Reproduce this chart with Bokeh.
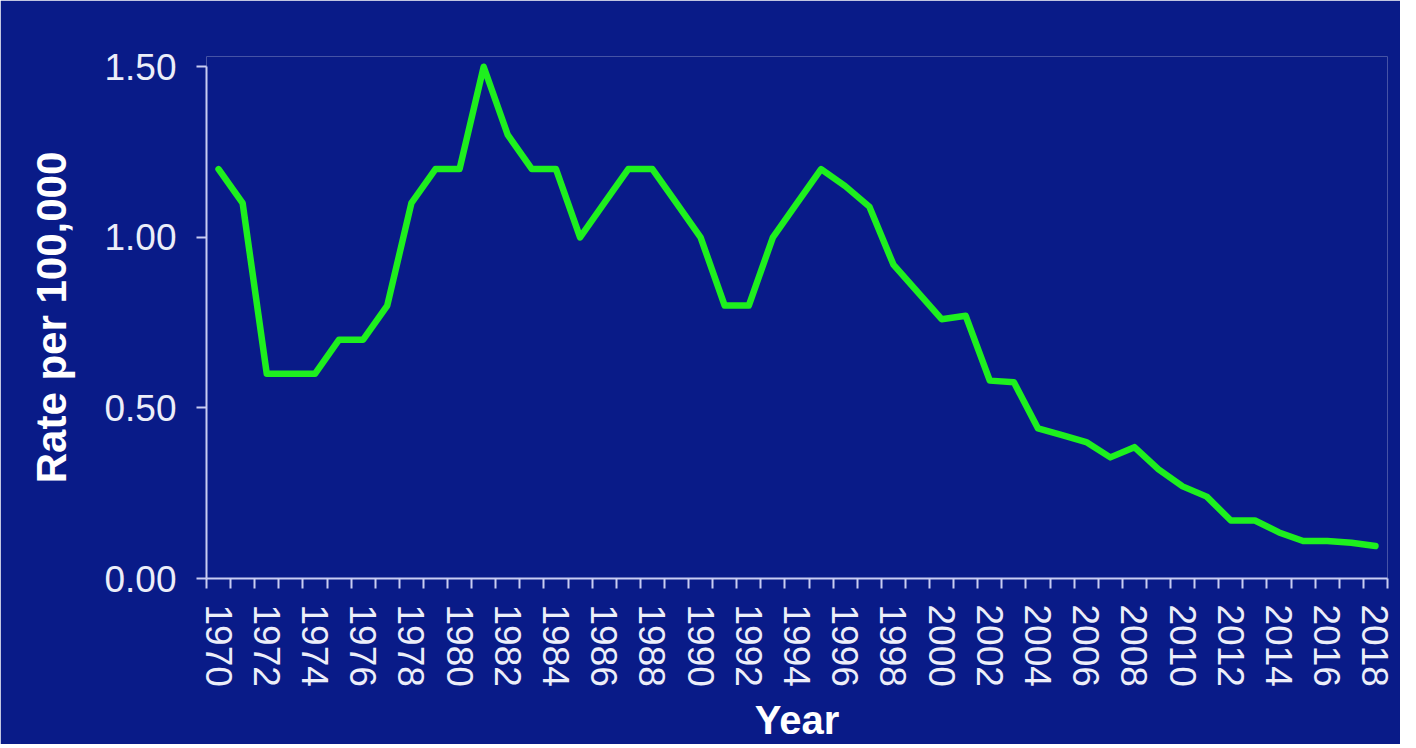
from bokeh.plotting import figure
from bokeh.models import Range1d, FixedTicker
from bokeh.embed import file_html
from bokeh.resources import INLINE

# ---- data ----
years = list(range(1970, 2019))
rates = [1.20, 1.10, 0.60, 0.60, 0.60, 0.70, 0.70, 0.80, 1.10, 1.20,
         1.20, 1.50, 1.30, 1.20, 1.20, 1.00, 1.10, 1.20, 1.20, 1.10,
         1.00, 0.80, 0.80, 1.00, 1.10, 1.20, 1.15, 1.09, 0.92, 0.84,
         0.76, 0.77, 0.58, 0.575, 0.44, 0.42, 0.40, 0.355, 0.385, 0.32,
         0.27, 0.24, 0.17, 0.17, 0.135, 0.11, 0.11, 0.105, 0.095]
x_label_years = list(range(1970, 2019, 2))
x_tick_labels = [str(y) for y in x_label_years]
y_ticks = [0.0, 0.5, 1.0, 1.5]
y_tick_labels = ["0.00", "0.50", "1.00", "1.50"]
x_title = "Year"
y_title = "Rate per 100,000"

BG = "#091b88"
AXIS = "#c9cdf2"
LABEL = "#eceef9"
FONT = "Liberation Sans"

p = figure(
    frame_width=1181, frame_height=522,
    x_range=Range1d(years[0] - 0.5, years[-1] + 0.5),
    y_range=Range1d(0, 1.53),
    output_backend="svg", toolbar_location=None,
    background_fill_color=BG, border_fill_color=BG,
    min_border_left=206, min_border_top=56, min_border_right=13, min_border_bottom=150,
)
p.outline_line_color = None
p.xgrid.grid_line_color = None
p.ygrid.grid_line_color = None

p.line(years, rates, line_color="#1ef01e", line_width=6.5, line_join="round", line_cap="round")

# x axis
xa = p.xaxis[0]
xa.ticker = FixedTicker(ticks=x_label_years,
                        minor_ticks=[y - 0.5 for y in years] + [years[-1] + 0.5])
xa.major_label_overrides = {y: s for y, s in zip(x_label_years, x_tick_labels)}
xa.major_label_orientation = "vertical"
xa.major_tick_out = 0
xa.major_tick_in = 0
xa.minor_tick_out = 10
xa.minor_tick_in = 0
xa.minor_tick_line_color = AXIS
xa.minor_tick_line_width = 2
xa.axis_line_color = AXIS
xa.axis_line_width = 2
xa.major_label_text_font = FONT
xa.major_label_text_font_size = "37px"
xa.major_label_text_color = LABEL
xa.major_label_standoff = 16
xa.axis_label = x_title
xa.axis_label_text_font = FONT
xa.axis_label_text_font_style = "bold"
xa.axis_label_text_font_size = "40px"
xa.axis_label_text_color = "white"
xa.axis_label_standoff = 8
xa.bounds = (years[0] - 0.5, years[-1] + 0.5)

# y axis
ya = p.yaxis[0]
ya.ticker = FixedTicker(ticks=y_ticks, minor_ticks=[])
ya.major_label_overrides = {t: s for t, s in zip(y_ticks, y_tick_labels)}
ya.major_tick_out = 10
ya.major_tick_in = 0
ya.major_tick_line_color = AXIS
ya.major_tick_line_width = 2
ya.axis_line_color = AXIS
ya.axis_line_width = 2
ya.major_label_text_font = FONT
ya.major_label_text_font_size = "37px"
ya.major_label_text_color = LABEL
ya.major_label_standoff = 20
ya.axis_label = y_title
ya.axis_label_text_font = FONT
ya.axis_label_text_font_style = "bold"
ya.axis_label_text_font_size = "42px"
ya.axis_label_text_color = "white"
ya.axis_label_standoff = 26
ya.bounds = (0, 1.5)

open("out.html", "w").write(file_html(p, INLINE))
